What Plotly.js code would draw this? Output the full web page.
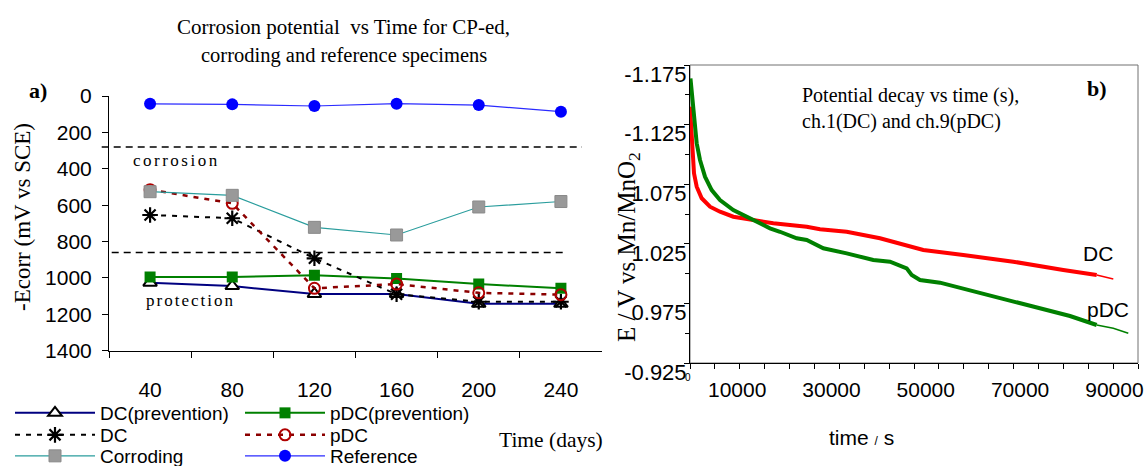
<!DOCTYPE html>
<html>
<head>
<meta charset="utf-8">
<script src="https://cdn.plot.ly/plotly-3.0.1.min.js"></script>
<style>html,body{margin:0;padding:0;background:#fff;}#chart{width:1147px;height:466px;}</style>
</head>
<body>
<div id="chart"></div>
<script>
// ---------- Panel a) data ----------
const days = ['40', '80', '120', '160', '200', '240'];
const dcPrevention = [1026, 1045, 1088, 1088, 1142, 1142];
const pdcPrevention = [995, 995, 985, 1003, 1034, 1057];
const dcSeries = [654, 672, 892, 1090, 1131, 1131];
const pdcSeries = [515, 590, 1057, 1034, 1082, 1092];
const corroding = [526, 546, 722, 764, 610, 580];
const reference = [43, 46, 55, 42, 50, 86];
const corrosionLimit = 280;
const protectionLimit = 860;
const yTicksA = [0, 200, 400, 600, 800, 1000, 1200, 1400];

// ---------- Panel b) data ----------
const timeDC = [0, 212, 490, 850, 1420, 2480, 4240, 6360, 9180, 13420, 17660, 21210, 24750, 27570, 33230, 40290, 45950, 49470, 57950, 68560, 79160, 86240, 89760];
const eDC = [-1.1400, -1.1232, -1.1009, -1.0841, -1.0729, -1.0632, -1.0561, -1.0519, -1.0477, -1.0450, -1.0422, -1.0408, -1.0393, -1.0372, -1.0351, -1.0296, -1.0240, -1.0198, -1.0156, -1.0100, -1.0030, -0.9988, -0.9955];
const timePDC = [100, 424, 700, 1060, 1420, 2120, 3180, 4600, 6360, 9180, 12020, 14140, 16960, 19080, 22630, 24750, 28270, 33230, 38870, 42410, 45950, 47010, 48770, 53010, 58670, 64310, 69970, 75640, 80580, 86240, 89760, 92940];
const ePDC = [-1.1638, -1.1513, -1.1372, -1.1232, -1.1093, -1.0953, -1.0813, -1.0701, -1.0617, -1.0533, -1.0477, -1.0435, -1.0380, -1.0351, -1.0296, -1.0282, -1.0212, -1.0170, -1.0114, -1.0100, -1.0044, -0.9988, -0.9946, -0.9924, -0.9868, -0.9806, -0.9751, -0.9694, -0.9644, -0.9569, -0.9541, -0.9499];
const yTickValsB = [-1.175, -1.125, -1.075, -1.025, -0.975, -0.925];
const yTickTextB = ['-1.175', '-1.125', '1.075', '1.025', '0.975', '-0.925'];
const xTickValsB = [10000, 30000, 50000, 70000, 90000];
const xTickTextB = ['10000', '30000', '50000', '70000', '90000'];
const thickUntil = 86240;

// ---------- helpers ----------
const W = 1147, H = 466;
const fx = p => p / W;
const fy = p => 1 - p / H;
const SERIF = 'Liberation Serif, Times New Roman, serif';
const SANS = 'Liberation Sans, Arial, sans-serif';

function part(t, e, thick) {
  const a = {x: [], y: []};
  t.forEach((v, i) => {
    if (thick ? v <= thickUntil : v >= thickUntil) { a.x.push(v); a.y.push(e[i]); }
  });
  return a;
}

const traces = [
  {x: days, y: dcPrevention, name: 'DC(prevention)', mode: 'lines+markers', xaxis: 'x', yaxis: 'y', legend: 'legend',
   line: {color: '#000080', width: 2}, marker: {symbol: 'triangle-up', size: 12, color: '#ffffff', line: {color: '#000000', width: 2}}},
  {x: days, y: pdcPrevention, name: 'pDC(prevention)', mode: 'lines+markers', xaxis: 'x', yaxis: 'y', legend: 'legend2',
   line: {color: '#008000', width: 2}, marker: {symbol: 'square', size: 11, color: '#008000'}},
  {x: days, y: dcSeries, name: 'DC', mode: 'lines+markers', xaxis: 'x', yaxis: 'y', legend: 'legend3',
   line: {color: '#000000', width: 2, dash: '5px,6px'}, marker: {symbol: 'asterisk-open', size: 13, color: '#000000', line: {color: '#000000', width: 2.2}}},
  {x: days, y: pdcSeries, name: 'pDC', mode: 'lines+markers', xaxis: 'x', yaxis: 'y', legend: 'legend4',
   line: {color: '#8b0000', width: 2.5, dash: '5px,6px'}, marker: {symbol: 'circle-open', size: 11, color: '#b00000', line: {color: '#b00000', width: 2}}},
  {x: days, y: corroding, name: 'Corroding', mode: 'lines+markers', xaxis: 'x', yaxis: 'y', legend: 'legend5',
   line: {color: '#2a9d9d', width: 1.2}, marker: {symbol: 'square', size: 12, color: '#999999', line: {color: '#8a8a8a', width: 1}}},
  {x: days, y: reference, name: 'Reference', mode: 'lines+markers', xaxis: 'x', yaxis: 'y', legend: 'legend6',
   line: {color: '#2b2bff', width: 1.2}, marker: {symbol: 'circle', size: 12, color: '#0000ff'}}
];

const dcThick = part(timeDC, eDC, true), dcThin = part(timeDC, eDC, false);
const pdcThick = part(timePDC, ePDC, true), pdcThin = part(timePDC, ePDC, false);
traces.push(
  {x: dcThick.x, y: dcThick.y, xaxis: 'x2', yaxis: 'y2', mode: 'lines', showlegend: false, line: {color: '#ff0000', width: 4}},
  {x: dcThin.x, y: dcThin.y, xaxis: 'x2', yaxis: 'y2', mode: 'lines', showlegend: false, line: {color: '#ff0000', width: 1.5}},
  {x: pdcThick.x, y: pdcThick.y, xaxis: 'x2', yaxis: 'y2', mode: 'lines', showlegend: false, line: {color: '#008000', width: 4}},
  {x: pdcThin.x, y: pdcThin.y, xaxis: 'x2', yaxis: 'y2', mode: 'lines', showlegend: false, line: {color: '#008000', width: 1.5}}
);

const legendBase = {
  orientation: 'v', xanchor: 'left', yanchor: 'middle', bgcolor: 'rgba(0,0,0,0)', borderwidth: 0,
  itemwidth: 80, font: {family: SANS, size: 19, color: '#000'}, traceorder: 'normal'
};
const lg = (px, py) => Object.assign({}, legendBase, {x: fx(px), y: fy(py)});

const layout = {
  width: W, height: H,
  margin: {l: 0, r: 0, t: 0, b: 0, autoexpand: false},
  paper_bgcolor: '#ffffff', plot_bgcolor: 'rgba(0,0,0,0)',
  showlegend: true,
  legend: lg(10, 413), legend2: lg(240, 413),
  legend3: lg(10, 435), legend4: lg(240, 435),
  legend5: lg(10, 456), legend6: lg(240, 456),
  xaxis: {
    domain: [fx(109), fx(602)], anchor: 'y', type: 'category', range: [-0.5, 5.5],
    showline: true, linecolor: '#000', linewidth: 1, ticks: 'outside', tickson: 'boundaries', ticklen: 6, tickcolor: '#000',
    showgrid: false, zeroline: false, tickfont: {family: SANS, size: 21, color: '#000'}, ticklabelstandoff: 20
  },
  yaxis: {
    domain: [fy(350.7), fy(96)], anchor: 'x', range: [1400, 0],
    tickvals: yTicksA, showline: true, linecolor: '#000', linewidth: 1, ticks: 'outside', ticklen: 6, tickcolor: '#000',
    showgrid: false, zeroline: false, tickfont: {family: SANS, size: 21, color: '#000'}, ticklabelstandoff: 6
  },
  xaxis2: {
    domain: [fx(690), fx(1138)], anchor: 'y2', range: [0, 95000],
    tickvals: xTickValsB, ticktext: xTickTextB, ticks: '', showline: true, linecolor: '#000', linewidth: 1,
    minor: {ticks: 'outside', dtick: 95000 / 18, tick0: 0, ticklen: 5, tickcolor: '#000', showgrid: false},
    showgrid: false, zeroline: false, tickfont: {family: SANS, size: 21, color: '#000'}, ticklabelstandoff: 8
  },
  yaxis2: {
    domain: [fy(363), fy(65)], anchor: 'x2', range: [-0.925, -1.175],
    tickvals: yTickValsB, ticktext: yTickTextB, ticks: 'outside', ticklen: 5, tickcolor: '#000',
    minor: {ticks: 'outside', dtick: 0.025, tick0: -1.175, ticklen: 4, tickcolor: '#000', showgrid: false},
    showline: true, linecolor: '#000', linewidth: 1,
    showgrid: false, zeroline: false, tickfont: {family: SANS, size: 22, color: '#000'}, ticklabelstandoff: -7, ticklabelshift: -9
  },
  shapes: [
    {type: 'line', xref: 'x domain', yref: 'y', x0: (101.7 - 109) / 493, x1: (582 - 109) / 493, y0: corrosionLimit, y1: corrosionLimit,
     line: {color: '#000', width: 1.6, dash: '7px,5px'}},
    {type: 'line', xref: 'x domain', yref: 'y', x0: (111.7 - 109) / 493, x1: (564 - 109) / 493, y0: protectionLimit, y1: protectionLimit,
     line: {color: '#000', width: 1.6, dash: '7px,5px'}},
    {type: 'rect', xref: 'x2 domain', yref: 'y2 domain', x0: 0, x1: 1, y0: 0, y1: 1, layer: 'below',
     line: {color: '#707070', width: 1}}
  ],
  annotations: [
    {text: 'Corrosion potential  vs Time for CP-ed,', xref: 'paper', yref: 'paper', x: fx(344), y: fy(27), xanchor: 'center', yanchor: 'middle', showarrow: false, font: {family: SERIF, size: 21, color: '#000'}},
    {text: 'corroding and reference specimens', xref: 'paper', yref: 'paper', x: fx(344), y: fy(56), xanchor: 'center', yanchor: 'middle', showarrow: false, font: {family: SERIF, size: 20.5, color: '#000'}},
    {text: '<b>a)</b>', xref: 'paper', yref: 'paper', x: fx(38), y: fy(90), xanchor: 'center', yanchor: 'middle', showarrow: false, font: {family: SERIF, size: 22, color: '#000'}},
    {text: '-Ecorr (mV vs SCE)', textangle: -90, xref: 'paper', yref: 'paper', x: fx(22), y: fy(217), xanchor: 'center', yanchor: 'middle', showarrow: false, font: {family: SERIF, size: 23, color: '#000'}},
    {text: '<span style="letter-spacing:2.5px">corrosion</span>', xref: 'paper', yref: 'paper', x: fx(176), y: fy(160), xanchor: 'center', yanchor: 'middle', showarrow: false, font: {family: SERIF, size: 17, color: '#000'}},
    {text: '<span style="letter-spacing:2px">protection</span>', xref: 'paper', yref: 'paper', x: fx(190), y: fy(300), xanchor: 'center', yanchor: 'middle', showarrow: false, font: {family: SERIF, size: 17, color: '#000'}},
    {text: 'Time (days)', xref: 'paper', yref: 'paper', x: fx(551), y: fy(440), xanchor: 'center', yanchor: 'middle', showarrow: false, font: {family: SERIF, size: 21.5, color: '#000'}},
    {text: 'Potential decay vs time (s),', xref: 'paper', yref: 'paper', x: fx(800), y: fy(96), xanchor: 'left', yanchor: 'middle', showarrow: false, font: {family: SERIF, size: 20, color: '#000'}},
    {text: 'ch.1(DC) and ch.9(pDC)', xref: 'paper', yref: 'paper', x: fx(800), y: fy(122), xanchor: 'left', yanchor: 'middle', showarrow: false, font: {family: SERIF, size: 20, color: '#000'}},
    {text: '<b>b)</b>', xref: 'paper', yref: 'paper', x: fx(1097), y: fy(89), xanchor: 'center', yanchor: 'middle', showarrow: false, font: {family: SERIF, size: 22, color: '#000'}},
    {text: 'DC', xref: 'paper', yref: 'paper', x: fx(1098), y: fy(253), xanchor: 'center', yanchor: 'middle', showarrow: false, font: {family: SANS, size: 21, color: '#000'}},
    {text: 'pDC', xref: 'paper', yref: 'paper', x: fx(1108), y: fy(309), xanchor: 'center', yanchor: 'middle', showarrow: false, font: {family: SANS, size: 21, color: '#000'}},
    {text: 'E / V vs Mn/MnO<sub>2</sub>', textangle: -90, xref: 'paper', yref: 'paper', x: fx(628), y: fy(247), xanchor: 'center', yanchor: 'middle', showarrow: false, font: {family: SERIF, size: 25, color: '#000'}},
    {text: 'time <span style="font-size:12px">/</span> s', xref: 'paper', yref: 'paper', x: fx(861), y: fy(437), xanchor: 'center', yanchor: 'middle', showarrow: false, font: {family: SANS, size: 21, color: '#000'}},
    {text: '0', xref: 'paper', yref: 'paper', x: fx(688), y: fy(377), xanchor: 'center', yanchor: 'middle', showarrow: false, font: {family: SANS, size: 10, color: '#000'}}
  ]
};

Plotly.newPlot('chart', traces, layout, {displayModeBar: false, staticPlot: true});
</script>
</body>
</html>
